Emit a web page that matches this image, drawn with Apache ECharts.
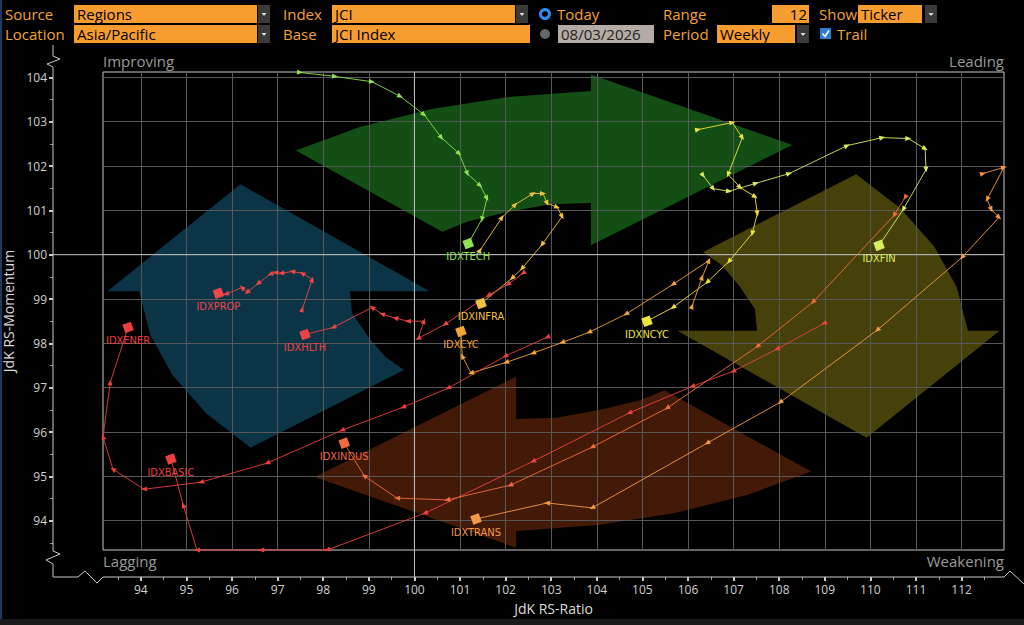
<!DOCTYPE html>
<html><head><meta charset="utf-8">
<script src="https://cdn.jsdelivr.net/npm/echarts@6/dist/echarts.min.js"></script>
<style>html,body{margin:0;padding:0;background:#000;}#c{width:1024px;height:625px;}</style>
</head><body><div id="c"></div>
<script>
// ---- data (JdK RS-Ratio = x, JdK RS-Momentum = y), oldest -> latest ----
const TICKERS = ['IDXTECH','IDXFIN','IDXNCYC','IDXINFRA','IDXCYC','IDXHLTH','IDXPROP','IDXENER','IDXBASIC','IDXINDUS','IDXTRANS'];
const IDXTECH_X  = [97.49, 98.26, 99.07, 99.69, 100.21, 100.59, 100.98, 101.16, 101.44, 101.59, 101.48, 101.18];
const IDXTECH_Y  = [104.11, 104.02, 103.90, 103.57, 103.16, 102.64, 102.28, 101.83, 101.56, 101.27, 100.80, 100.25];
const IDXFIN_X   = [106.33, 106.55, 106.90, 107.49, 108.22, 109.49, 110.26, 110.83, 111.20, 111.22, 110.72, 110.19];
const IDXFIN_Y   = [101.79, 101.49, 101.43, 101.61, 101.83, 102.46, 102.64, 102.62, 102.39, 101.92, 101.02, 100.21];
const IDXNCYC_X  = [106.22, 106.97, 107.19, 106.88, 107.14, 107.47, 107.52, 107.41, 106.90, 106.42, 105.67, 105.10];
const IDXNCYC_Y  = [102.82, 102.98, 102.64, 101.81, 101.52, 101.31, 100.93, 100.48, 99.85, 99.38, 98.81, 98.50];
const IDXINFRA_X = [101.44, 101.92, 102.21, 102.60, 102.82, 102.91, 103.13, 103.24, 102.80, 102.36, 102.14, 101.46];
const IDXINFRA_Y = [100.10, 100.84, 101.13, 101.38, 101.38, 101.16, 101.07, 100.86, 100.23, 99.69, 99.47, 98.90];
const IDXCYC_X   = [106.09, 106.31, 106.46, 105.67, 104.64, 103.83, 103.24, 102.60, 102.01, 101.24, 101.05, 101.02];
const IDXCYC_Y   = [98.84, 99.49, 99.87, 99.33, 98.66, 98.25, 98.02, 97.78, 97.57, 97.33, 97.71, 98.27];
const IDXHLTH_X  = [102.38, 102.05, 101.62, 100.67, 100.08, 100.21, 99.86, 99.58, 99.29, 99.07, 98.22, 97.60];
const IDXHLTH_Y  = [99.58, 99.33, 99.08, 98.43, 98.11, 98.50, 98.50, 98.57, 98.66, 98.81, 98.36, 98.20];
const IDXPROP_X  = [97.54, 97.76, 97.54, 97.32, 97.08, 96.95, 96.84, 96.57, 96.33, 96.22, 95.87, 95.70];
const IDXPROP_Y  = [98.77, 99.44, 99.58, 99.62, 99.58, 99.60, 99.56, 99.35, 99.15, 99.26, 99.11, 99.13];
const IDXENER_X  = [102.91, 101.99, 100.74, 99.75, 98.41, 96.77, 95.32, 94.07, 93.39, 93.17, 93.33, 93.72];
const IDXENER_Y  = [98.14, 97.71, 96.99, 96.56, 96.04, 95.30, 94.87, 94.71, 95.16, 95.89, 97.12, 98.36];
const IDXBASIC_X = [108.98, 107.95, 106.99, 106.09, 104.71, 102.60, 100.23, 98.09, 96.64, 95.23, 94.93, 94.66];
const IDXBASIC_Y = [98.45, 97.87, 97.37, 97.03, 96.43, 95.34, 94.17, 93.34, 93.34, 93.34, 94.35, 95.39];
const IDXINDUS_X = [110.76, 110.52, 108.74, 107.52, 105.54, 103.90, 102.10, 100.72, 99.62, 98.90, 98.46];
const IDXINDUS_Y = [101.29, 100.89, 98.93, 97.93, 96.54, 95.66, 94.80, 94.47, 94.51, 95.01, 95.75];
const IDXTRANS_X = [112.47, 112.93, 112.56, 112.65, 112.82, 112.01, 110.15, 108.02, 106.42, 103.90, 102.91, 101.35];
const IDXTRANS_Y = [101.83, 101.97, 101.25, 101.02, 100.84, 99.94, 98.30, 96.67, 95.75, 94.29, 94.40, 94.04];
const X_TICKS = [94,95,96,97,98,99,100,101,102,103,104,105,106,107,108,109,110,111,112];
const Y_TICKS = [94,95,96,97,98,99,100,101,102,103,104];
const X_NAME = 'JdK RS-Ratio', Y_NAME = 'JdK RS-Momentum';
const QUADRANTS = ['Improving','Leading','Lagging','Weakening'];

// ---- styles ----
const SERIES_DATA = {
  IDXTECH:[IDXTECH_X,IDXTECH_Y], IDXFIN:[IDXFIN_X,IDXFIN_Y], IDXNCYC:[IDXNCYC_X,IDXNCYC_Y],
  IDXINFRA:[IDXINFRA_X,IDXINFRA_Y], IDXCYC:[IDXCYC_X,IDXCYC_Y], IDXHLTH:[IDXHLTH_X,IDXHLTH_Y],
  IDXPROP:[IDXPROP_X,IDXPROP_Y], IDXENER:[IDXENER_X,IDXENER_Y], IDXBASIC:[IDXBASIC_X,IDXBASIC_Y],
  IDXINDUS:[IDXINDUS_X,IDXINDUS_Y], IDXTRANS:[IDXTRANS_X,IDXTRANS_Y]
};
const COLORS = {
  IDXTECH:'#8ee052', IDXFIN:'#d6ee5e', IDXNCYC:'#efe33e', IDXINFRA:'#f1c03e', IDXCYC:'#f2a434',
  IDXHLTH:'#ea4444', IDXPROP:'#ec4646', IDXENER:'#ea3e3e', IDXBASIC:'#ea4040', IDXINDUS:'#ef6c3c', IDXTRANS:'#f2984a'
};
const X_MIN = 93.17, X_MAX = 112.93, Y_MIN = 93.34, Y_MAX = 104.12;
const G = {left:103, top:72, right:1004, bottom:550};
const SX = (G.right-G.left)/(X_MAX-X_MIN), SY = (G.bottom-G.top)/(Y_MAX-Y_MIN);
const LBL_FONT = '"Liberation Sans Narrow","DejaVu Sans Condensed",sans-serif';

function rot(dx, dy){ return Math.atan2(-dx*SX, dy*SY)*180/Math.PI; }

function buildSeries(name){
  const xs = SERIES_DATA[name][0], ys = SERIES_DATA[name][1], n = xs.length, color = COLORS[name];
  const data = xs.map(function(x,i){
    let dx, dy;
    if (i>0){ dx = x - xs[i-1]; dy = ys[i]-ys[i-1]; } else { dx = xs[1]-x; dy = ys[1]-ys[0]; }
    const item = {value:[x, ys[i]], symbolRotate: rot(dx,dy)};
    if (i === n-1){
      item.symbol = 'rect'; item.symbolSize = 9; item.symbolRotate = 20;
      item.label = {show:true, position:'bottom', distance:2, formatter:name, color:color,
                    fontSize:11, fontFamily:LBL_FONT};
    }
    return item;
  });
  return {type:'line', name:name, data:data, symbol:'triangle', symbolSize:[5,6], showAllSymbol:true,
    clip:false, silent:true, animation:false, z:5,
    lineStyle:{color:color, width:1, opacity:0.9}, itemStyle:{color:color}};
}

// ---- decoration: rotation arrows (normalized plot coords) ----
const ARROW = [[-0.572,-0.672],[-0.43,-0.77],[-0.27,-0.845],[-0.10,-0.895],[0.083,-0.92],[0.083,-0.99],
  [0.53,-0.695],[0.083,-0.275],[0.083,-0.452],[-0.008,-0.447],[-0.109,-0.411],[-0.192,-0.373],[-0.247,-0.332]];
const CX = (G.left+G.right)/2, CY = (G.top+G.bottom)/2, HW = (G.right-G.left)/2, HH = (G.bottom-G.top)/2;
const ROTS = [
  {f:function(p){return [p[0],p[1]];},  fill:'#134f14'},
  {f:function(p){return [-p[1],p[0]];}, fill:'#46410a'},
  {f:function(p){return [-p[0],-p[1]];},fill:'#431a07'},
  {f:function(p){return [p[1],-p[0]];}, fill:'#0c3447'}
];
const graphics = [];
ROTS.forEach(function(r){
  graphics.push({type:'polygon', z:-5, silent:true,
    shape:{points: ARROW.map(function(p){ const q = r.f(p); return [CX+q[0]*HW, CY+q[1]*HH]; })},
    style:{fill:r.fill}});
});

// ---- header ----
const HF = '"Open Sans","Noto Sans",sans-serif';
const HO = '#f2a33a', BOX = '#f79d30';
function T(x,y,s,fill,size,align,family){return {type:'text',x:x,y:y,z:20,silent:true,
  style:{text:s,fill:fill,font:(size||15)+'px '+(family||HF),textAlign:align||'left',textVerticalAlign:'middle'}};}
function R(x,y,w,h,fill){return {type:'rect',z:20,silent:true,shape:{x:x,y:y,width:w,height:h},style:{fill:fill}};}
function DD(x,y){ graphics.push(R(x,y,12,18,'#3a3a3a'));
  graphics.push({type:'polygon',z:21,silent:true,shape:{points:[[x+3.5,y+8],[x+8.5,y+8],[x+6,y+11]]},style:{fill:'#dddddd'}}); }

graphics.push(R(0,0,2,625,'#1d3b5e'));
graphics.push(R(0,619,1024,6,'#1a1a1a'));
graphics.push(T(5,14,'Source',HO)); graphics.push(R(74,5,183,18,BOX)); graphics.push(T(77,14,'Regions','#000')); DD(258,5);
graphics.push(T(5,34,'Location',HO)); graphics.push(R(74,25,183,18,BOX)); graphics.push(T(77,34,'Asia/Pacific','#000')); DD(258,25);
graphics.push(T(283,14,'Index',HO)); graphics.push(R(332,5,183,18,BOX)); graphics.push(T(335,14,'JCI','#000')); DD(516,5);
graphics.push(T(283,34,'Base',HO)); graphics.push(R(332,25,198,18,BOX)); graphics.push(T(335,34,'JCI Index','#000'));
graphics.push({type:'circle',z:20,silent:true,shape:{cx:545,cy:14,r:4.5},style:{fill:'#000',stroke:'#2d8cf0',lineWidth:3}});
graphics.push(T(557,14,'Today',HO));
graphics.push({type:'circle',z:20,silent:true,shape:{cx:545,cy:34,r:5},style:{fill:'#666'}});
graphics.push(R(558,25,96,18,'#b4aca4')); graphics.push(T(561,34,'08/03/2026','#222'));
graphics.push(T(663,14,'Range',HO)); graphics.push(R(772,5,37,18,BOX)); graphics.push(T(807,14,'12','#000',15,'right'));
graphics.push(T(663,34,'Period',HO)); graphics.push(R(717,25,78,18,BOX)); graphics.push(T(720,34,'Weekly','#000')); DD(797,25);
graphics.push(T(819,14,'Show',HO)); graphics.push(R(858,5,64,18,BOX)); graphics.push(T(861,14,'Ticker','#000')); DD(925,5);
graphics.push(R(820,28,11,11,'#2a7fd4'));
graphics.push({type:'polyline',z:21,silent:true,shape:{points:[[822.5,33.5],[825,36.5],[829,30.5]]},style:{stroke:'#fff',lineWidth:1.6,fill:null}});
graphics.push(T(837,34,'Trail',HO));

// quadrant labels
graphics.push(T(G.left,61,QUADRANTS[0],'#9a9a9a',15));
graphics.push(T(G.right,61,QUADRANTS[1],'#9a9a9a',15,'right'));
graphics.push(T(G.left,561,QUADRANTS[2],'#9a9a9a',15));
graphics.push(T(G.right,561,QUADRANTS[3],'#9a9a9a',15,'right'));

// axis lines with break marks
const AXX = 53, AXY = 577;
graphics.push({type:'polyline',z:3,silent:true,style:{stroke:'#c8c8c8',lineWidth:1,fill:null},
  shape:{points:[[AXX,45],[AXX,56],[AXX+7,59],[AXX-6,64],[AXX,67],[AXX,551],[AXX+7,554],[AXX-7,560],[AXX,564],
    [AXX,AXY],[78,AXY],[85,AXY-6],[97,AXY+6],[G.left,AXY],[G.right,AXY],[1010,AXY-6],[1024,AXY+7]]}});

const chart = echarts.init(document.getElementById('c'), null, {renderer:'svg', width:1024, height:625});
const axisCommon = {
  type:'value', minInterval:1, maxInterval:1,
  axisLine:{show:false},
  axisTick:{show:true, length:4, lineStyle:{color:'#cccccc', width:2}},
  minorTick:{show:true, splitNumber:2, length:3, lineStyle:{color:'#999999', width:1}},
  splitLine:{show:true, lineStyle:{color:'#585858', width:1}},
  nameLocation:'middle',
  nameTextStyle:{color:'#dcdcdc', fontSize:14, fontFamily:HF}
};
const option = {
  backgroundColor:'#000',
  animation:false,
  grid:{left:G.left, top:G.top, right:1024-G.right, bottom:625-G.bottom, show:true,
        borderColor:'#c8c8c8', borderWidth:1, backgroundColor:'transparent', containLabel:false, outerBoundsMode:'none'},
  xAxis: Object.assign({}, axisCommon, {min:X_MIN, max:X_MAX, offset:AXY-G.bottom, position:'bottom',
    name:X_NAME, nameGap:24,
    axisTick:Object.assign({}, axisCommon.axisTick, {customValues:X_TICKS}),
    axisLabel:{color:'#d0d0d0', fontSize:12, margin:6, fontFamily:HF, customValues:X_TICKS, showMinLabel:true, showMaxLabel:true}}),
  yAxis: Object.assign({}, axisCommon, {min:Y_MIN, max:Y_MAX, offset:G.left-AXX, position:'left',
    name:Y_NAME, nameGap:33,
    axisTick:Object.assign({}, axisCommon.axisTick, {customValues:Y_TICKS}),
    axisLabel:{color:'#d0d0d0', fontSize:12, margin:6, fontFamily:HF, customValues:Y_TICKS, showMinLabel:true, showMaxLabel:true}}),
  graphic:{elements:graphics},
  series: TICKERS.map(buildSeries)
};
chart.setOption(option);

// centre lines at 100 / 100, extended to the axes
const p100x = chart.convertToPixel({xAxisIndex:0}, 100);
const p100y = chart.convertToPixel({yAxisIndex:0}, 100);
const extra = graphics.slice();
extra.push({type:'line',z:3,silent:true,shape:{x1:p100x,y1:G.top,x2:p100x,y2:AXY},style:{stroke:'#c4c4c4',lineWidth:1}});
extra.push({type:'line',z:3,silent:true,shape:{x1:AXX,y1:p100y,x2:G.right,y2:p100y},style:{stroke:'#c4c4c4',lineWidth:1}});
chart.setOption({graphic:{elements:extra}});
</script>
</body></html>
